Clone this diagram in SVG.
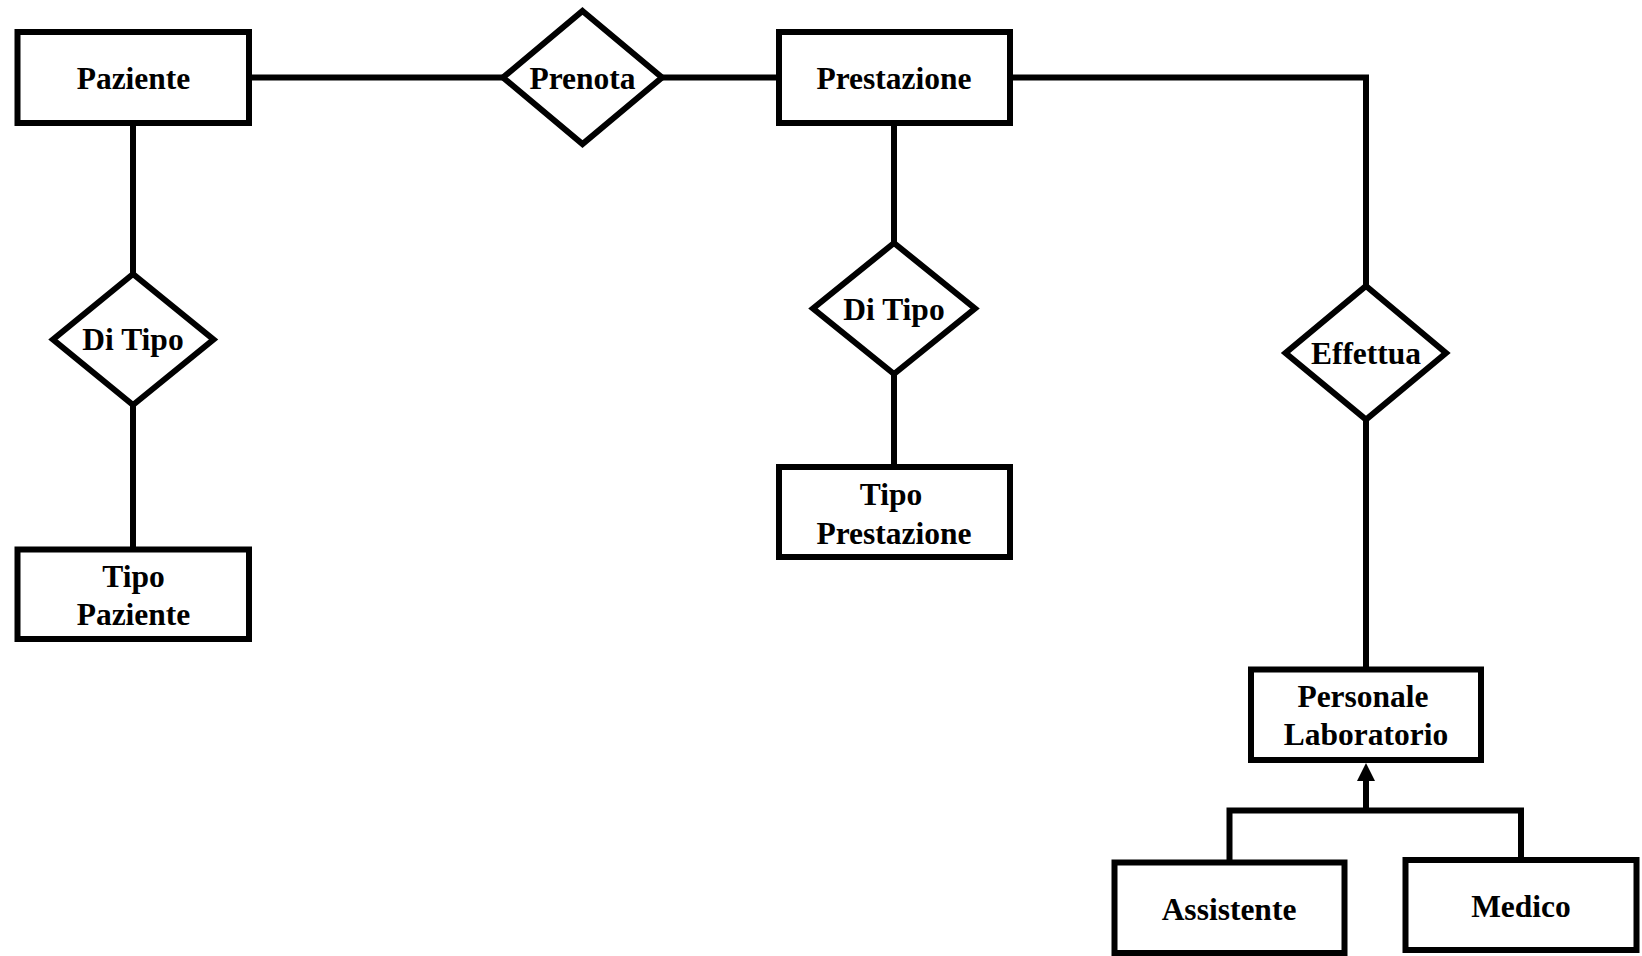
<svg xmlns="http://www.w3.org/2000/svg" width="1642" height="956" viewBox="0 0 1642 956">
<style>
.ent{fill:#fff;stroke:#000;stroke-width:6}
.rel{fill:#fff;stroke:#000;stroke-width:6;stroke-linejoin:miter}
.ln{fill:none;stroke:#000;stroke-width:6}
text{font-family:"Liberation Serif","Times New Roman",serif;font-weight:bold;font-size:31.5px;fill:#000;text-anchor:middle}
</style>
<rect width="1642" height="956" fill="#fff"/>
<g id="connectors">
<path class="ln" d="M249,77.5 H503"/>
<path class="ln" d="M661,77.5 H779"/>
<path class="ln" d="M1010,77.5 H1366 V288"/>
<path class="ln" d="M133,123 V276"/>
<path class="ln" d="M133,402 V549.5"/>
<path class="ln" d="M894,123 V244"/>
<path class="ln" d="M894,372 V467"/>
<path class="ln" d="M1366,418 V669.5"/>
<path class="ln" d="M1229.5,862 V810.5 H1521 V860"/>
<path class="ln" d="M1366,810.5 V780"/>
<path d="M1357,781 L1366,763 L1375,781 Z" fill="#000"/>
</g>
<g id="paziente"><rect class="ent" x="17.5" y="32" width="231.5" height="91"/><text x="133.5" y="89">Paziente</text></g>
<g id="prenota"><polygon class="rel" points="582.5,11 662,77.5 582.5,144 503,77.5"/><text x="582.5" y="89">Prenota</text></g>
<g id="prestazione"><rect class="ent" x="779" y="32" width="231" height="91"/><text x="894" y="89">Prestazione</text></g>
<g id="ditipo1"><polygon class="rel" points="133,274 213.5,339.5 133,405 53,339.5"/><text x="133" y="350">Di Tipo</text></g>
<g id="tipopaziente"><rect class="ent" x="17.5" y="549.5" width="231.5" height="89.5"/><text x="133.5" y="586.5">Tipo</text><text x="133.5" y="625">Paziente</text></g>
<g id="ditipo2"><polygon class="rel" points="894,243 975,308.5 894,374 813,308.5"/><text x="894" y="320">Di Tipo</text></g>
<g id="tipoprestazione"><rect class="ent" x="779" y="467" width="231" height="90"/><text x="891" y="505">Tipo</text><text x="894" y="543.5">Prestazione</text></g>
<g id="effettua"><polygon class="rel" points="1366,286 1446,353 1366,419.5 1285.5,353"/><text x="1366" y="364">Effettua</text></g>
<g id="personale"><rect class="ent" x="1251" y="669.5" width="230" height="90.5"/><text x="1363" y="706.5">Personale</text><text x="1366" y="745">Laboratorio</text></g>
<g id="assistente"><rect class="ent" x="1114.5" y="862.5" width="230" height="90.5"/><text x="1229" y="920">Assistente</text></g>
<g id="medico"><rect class="ent" x="1405.5" y="860" width="231" height="90"/><text x="1521" y="916.5">Medico</text></g>
</svg>
